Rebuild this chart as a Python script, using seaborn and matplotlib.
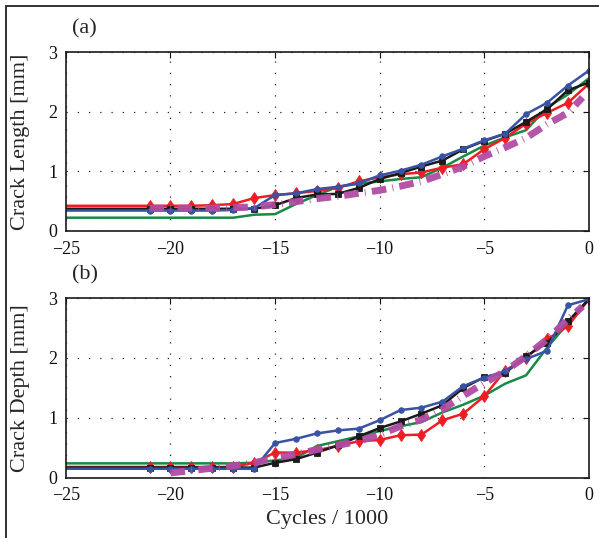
import numpy as np
import pandas as pd
import matplotlib
matplotlib.use("Agg")
import matplotlib.pyplot as plt
from matplotlib.patches import Rectangle
import seaborn as sns

# ---------------- data ----------------
cycles = [-25, -21, -20, -19, -18, -17, -16, -15, -14, -13, -12, -11,
          -10, -9, -8, -7, -6, -5, -4, -3, -2, -1, 0]

len_red = [0.42, 0.42, 0.42, 0.42, 0.43, 0.45, 0.55, 0.60, 0.63, 0.67, 0.72, 0.83,
           0.90, 0.95, 0.98, 1.06, 1.12, 1.37, 1.56, 1.80, 1.98, 2.15, 2.47]
len_blue = [0.34, 0.34, 0.34, 0.34, 0.34, 0.35, 0.38, 0.60, 0.63, 0.70, 0.74, 0.80,
            0.93, 1.01, 1.11, 1.25, 1.38, 1.52, 1.63, 1.96, 2.15, 2.44, 2.69]
len_black = [0.37, 0.37, 0.37, 0.37, 0.37, 0.37, 0.37, 0.43, 0.55, 0.61, 0.62, 0.72,
             0.87, 0.97, 1.08, 1.18, 1.37, 1.51, 1.63, 1.83, 2.04, 2.36, 2.49]
len_green = [0.22, 0.22, 0.22, 0.22, 0.22, 0.22, 0.27, 0.28, 0.45, 0.60, 0.74, 0.79,
             0.83, 0.87, 0.90, 1.06, 1.25, 1.43, 1.57, 1.69, 2.07, 2.29, 2.56]

fit_len_x = [-21, -20, -19, -18, -17, -16, -15, -14, -13, -12, -11, -10,
             -9, -8, -7, -6, -5, -4, -3, -2, -1, -0.3]
fit_len_y = [0.38, 0.38, 0.38, 0.38, 0.39, 0.40, 0.44, 0.49, 0.54, 0.58, 0.63, 0.68,
             0.75, 0.83, 0.95, 1.08, 1.25, 1.40, 1.56, 1.79, 1.98, 2.24]

dep_red = [0.18, 0.18, 0.18, 0.18, 0.18, 0.18, 0.25, 0.42, 0.42, 0.46, 0.53, 0.61,
           0.63, 0.71, 0.72, 0.96, 1.07, 1.36, 1.79, 2.00, 2.31, 2.53, 2.98]
dep_blue = [0.15, 0.15, 0.15, 0.15, 0.15, 0.15, 0.15, 0.58, 0.65, 0.74, 0.79, 0.82,
            0.96, 1.13, 1.17, 1.27, 1.53, 1.67, 1.78, 1.98, 2.12, 2.88, 2.98]
dep_black = [0.17, 0.17, 0.17, 0.17, 0.17, 0.17, 0.17, 0.25, 0.31, 0.42, 0.54, 0.69,
             0.83, 0.94, 1.07, 1.21, 1.50, 1.68, 1.75, 2.03, 2.25, 2.61, 2.98]
dep_green = [0.24, 0.24, 0.24, 0.24, 0.24, 0.24, 0.25, 0.29, 0.33, 0.53, 0.61, 0.69,
             0.78, 0.86, 0.93, 1.09, 1.22, 1.37, 1.57, 1.71, 2.17, 2.58, 2.98]

fit_dep_x = [-20, -19, -18, -17, -16, -15, -14, -13, -12, -11, -10,
             -9, -8, -7, -6, -5, -4, -3, -2, -1, -0.3]
fit_dep_y = [0.08, 0.12, 0.16, 0.20, 0.25, 0.33, 0.39, 0.47, 0.54, 0.61, 0.72,
             0.86, 0.97, 1.14, 1.37, 1.58, 1.78, 2.03, 2.31, 2.64, 2.86]

panel_labels = ["(a)", "(b)"]
y_labels = ["Crack Length [mm]", "Crack Depth [mm]"]
x_label = "Cycles / 1000"
x_ticks = [-25, -20, -15, -10, -5, 0]
x_ticklabels = ["\u221225", "\u221220", "\u221215", "\u221210", "\u22125", "0"]
y_ticks = [0, 1, 2, 3]

# ---------------- style ----------------
sns.set_style("white")
plt.rcParams["font.family"] = ["Liberation Serif", "DejaVu Serif"]

C_RED = "#ee1d23"
C_BLUE = "#3953a4"
C_BLACK = "#1a1a1a"
C_GREEN = "#178a43"
C_MAG = "#b04ca4"

fig = plt.figure(figsize=(5.99, 5.38), dpi=100)
ax_top = fig.add_axes([0.110, 0.571, 0.873, 0.332])
ax_bot = fig.add_axes([0.110, 0.112, 0.873, 0.334])

fig.patches.append(Rectangle((6 / 599, -0.5), 2.0, 0.5 + 1 - 6 / 538,
                             transform=fig.transFigure, fill=False,
                             edgecolor="#222222", lw=1.3))

panels = [
    (ax_top, [len_red, len_blue, len_black, len_green], fit_len_x, fit_len_y),
    (ax_bot, [dep_red, dep_blue, dep_black, dep_green], fit_dep_x, fit_dep_y),
]

for i, (ax, series, fx, fy) in enumerate(panels):
    red, blue, black, green = series
    df = pd.DataFrame({"x": cycles, "red": red, "blue": blue,
                       "black": black, "green": green})
    sns.lineplot(data=df, x="x", y="green", ax=ax, color=C_GREEN, lw=1.8,
                 sort=False, estimator=None)
    sns.lineplot(data=df, x="x", y="red", ax=ax, color=C_RED, lw=1.8,
                 marker="d", markersize=6, markeredgewidth=0.6,
                 markeredgecolor=C_RED, markerfacecolor=C_RED,
                 markevery=slice(1, None), sort=False, estimator=None)
    sns.lineplot(data=df, x="x", y="black", ax=ax, color=C_BLACK, lw=1.8,
                 marker="s", markersize=4, markeredgewidth=0.6,
                 markeredgecolor=C_BLACK, markerfacecolor=C_BLACK,
                 markevery=slice(1, None), sort=False, estimator=None)
    sns.lineplot(data=df, x="x", y="blue", ax=ax, color=C_BLUE, lw=1.8,
                 marker="o", markersize=4, markeredgewidth=0.6,
                 markeredgecolor=C_BLUE, markerfacecolor=C_BLUE,
                 markevery=slice(1, None), sort=False, estimator=None)
    dfit = pd.DataFrame({"x": fx, "y": fy})
    sns.lineplot(data=dfit, x="x", y="y", ax=ax, color=C_MAG, lw=5.0,
                 sort=False, estimator=None, alpha=0.95,
                 linestyle=(0, (2.1, 0.9, 0.12, 0.9)))

    ax.set_xlim(-25, 0)
    ax.set_ylim(0, 3)
    ax.set_xticks(x_ticks)
    ax.set_yticks(y_ticks)
    ax.set_xticklabels(x_ticklabels)
    ax.tick_params(direction="in", top=True, right=True, length=4, width=0.8,
                   labelsize=13, colors="#111111")
    ax.tick_params(axis="x", pad=7)
    ax.tick_params(axis="y", pad=6)
    ax.grid(True, color="#222222", linestyle=(0, (1, 8)), lw=0.9)
    for sp in ax.spines.values():
        sp.set_color("#1a1a1a")
        sp.set_linewidth(1.2)
    ax.set_ylabel(y_labels[i], fontsize=16, labelpad=13)
    ax.set_xlabel("")
    ax.text(0.012, 1.13, panel_labels[i], fontsize=16, ha="left", va="center",
            transform=ax.transAxes, clip_on=False)

ax_bot.set_xlabel(x_label, fontsize=16, labelpad=4)

fig.savefig("out.png", dpi=100)
